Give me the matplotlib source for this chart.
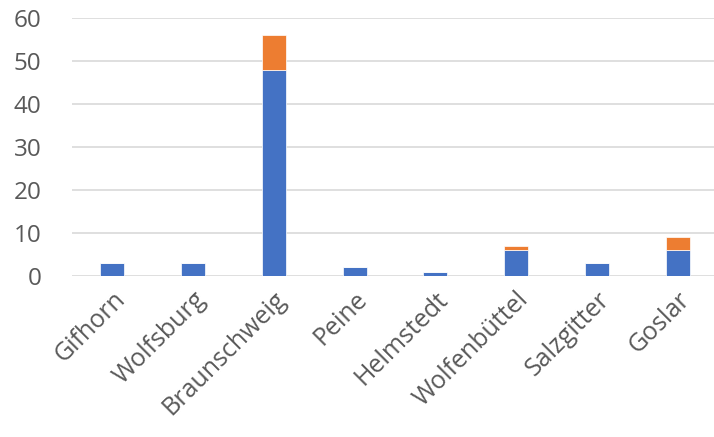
import matplotlib
matplotlib.use("Agg")
import matplotlib.pyplot as plt
import numpy as np

categories = ["Gifhorn", "Wolfsburg", "Braunschweig", "Peine", "Helmstedt", "Wolfenbüttel", "Salzgitter", "Goslar"]
series_blue = [3, 3, 48, 2, 1, 6, 3, 6]
series_orange = [0, 0, 8, 0, 0, 1, 0, 3]
yticks = [0, 10, 20, 30, 40, 50, 60]

plt.rcParams['font.family'] = ['Open Sans', 'DejaVu Sans']
fig = plt.figure(figsize=(7.14, 4.37), dpi=100)
ax = fig.add_axes([72/714, 1-276/437, (718-72)/714, (276-18)/437])

x = np.arange(len(categories))
ax.bar(x, series_blue, width=0.3, color="#4472C4", edgecolor="white", linewidth=0.5, zorder=3)
ax.bar(x, series_orange, width=0.3, bottom=series_blue, color="#ED7D31", edgecolor="white", linewidth=0.5, zorder=3)

ax.set_xlim(-0.5, len(categories) - 0.5)
ax.set_ylim(0, 60)
ax.set_yticks(yticks)
ax.yaxis.grid(True, color="#D9D9D9", linewidth=1.2, zorder=0)
for s in ax.spines.values():
    s.set_visible(False)
ax.tick_params(axis="both", length=0, colors="#595959")
ax.tick_params(axis="y", pad=22, labelsize=17.5)
ax.set_xticks(x)
ax.set_xticklabels(categories, rotation=45, ha="right", rotation_mode="anchor")
ax.tick_params(axis="x", pad=8, labelsize=18)

fig.savefig("out.png", dpi=100)
